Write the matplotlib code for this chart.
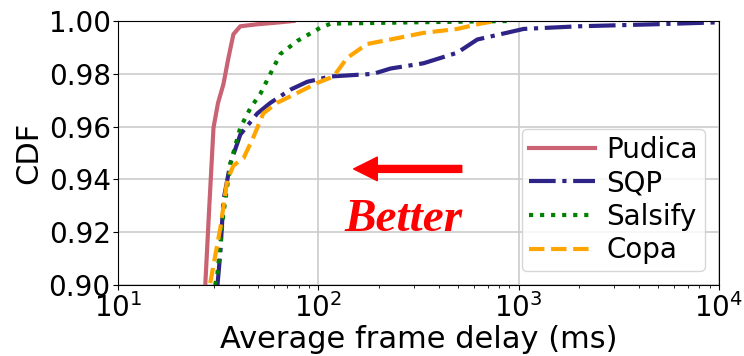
import numpy as np
import matplotlib.pyplot as plt

# CDF points (delay in ms, cdf value)
pudica_x = [27.2, 28.5, 29.9, 31.5, 33.5, 35.5, 37.6, 40.7, 50, 60, 75]
pudica_y = [0.900, 0.930, 0.9596, 0.969, 0.976, 0.986, 0.995, 0.998, 0.9988, 0.9993, 1.0]

sqp_x = [31.3, 32.4, 33.5, 36.3, 40.7, 49.5, 57.5, 72.4, 88, 115, 188, 229, 335, 494, 622, 813, 1060, 2000, 5000, 10000]
sqp_y = [0.900, 0.913, 0.932, 0.946, 0.957, 0.965, 0.969, 0.974, 0.977, 0.979, 0.980, 0.982, 0.984, 0.988, 0.993, 0.995, 0.997, 0.998, 0.9988, 0.9995]

salsify_x = [30.5, 31.3, 33.5, 36.3, 40.7, 45.7, 51.3, 57.5, 64.5, 78.6, 102, 115, 300, 912]
salsify_y = [0.900, 0.9045, 0.927, 0.946, 0.9596, 0.967, 0.9725, 0.980, 0.9875, 0.9925, 0.9974, 0.999, 0.9995, 1.0]

copa_x = [28.8, 32.4, 35, 37.6, 42.2, 47.3, 53, 62, 78.6, 98.9, 119, 139, 175, 229, 335, 494, 645, 767]
copa_y = [0.9008, 0.922, 0.9396, 0.9453, 0.948, 0.956, 0.965, 0.969, 0.9728, 0.9766, 0.979, 0.986, 0.9913, 0.993, 0.9955, 0.997, 0.999, 1.0]

fig = plt.figure(figsize=(7.44, 3.56), dpi=100)
ax = fig.add_axes([0.159, 0.199, 0.807, 0.742])

ax.plot(pudica_x, pudica_y, color='#c96374', lw=3, label='Pudica')
ax.plot(sqp_x, sqp_y, color='#2e2387', lw=3, ls='-.', label='SQP')
ax.plot(salsify_x, salsify_y, color='green', lw=3, ls=':', label='Salsify')
ax.plot(copa_x, copa_y, color='orange', lw=3, ls='--', label='Copa')

ax.set_xscale('log')
ax.set_xlim(10, 10000)
ax.set_ylim(0.90, 1.00)
ax.set_yticks([0.90, 0.92, 0.94, 0.96, 0.98, 1.00])
ax.tick_params(labelsize=20, pad=2)
ax.set_xlabel('Average frame delay (ms)', fontsize=22, labelpad=2)
ax.set_ylabel('CDF', fontsize=22, labelpad=4)
ax.grid(True, color='#cccccc', lw=1.2)

ax.legend(fontsize=20, loc='lower right', handlelength=2.4, borderaxespad=0.5,
          borderpad=0.25, labelspacing=0.2, handletextpad=0.4)

# "Better" arrow pointing left
ax.annotate('', xy=(150, 0.944), xytext=(520, 0.944),
            arrowprops=dict(facecolor='red', edgecolor='red', width=5, headwidth=17, headlength=17))
ax.text(265, 0.9245, 'Better', color='red', fontsize=34, fontweight='bold', fontstyle='italic',
        family='Liberation Serif', ha='center', va='center')

plt.savefig('out.png')
